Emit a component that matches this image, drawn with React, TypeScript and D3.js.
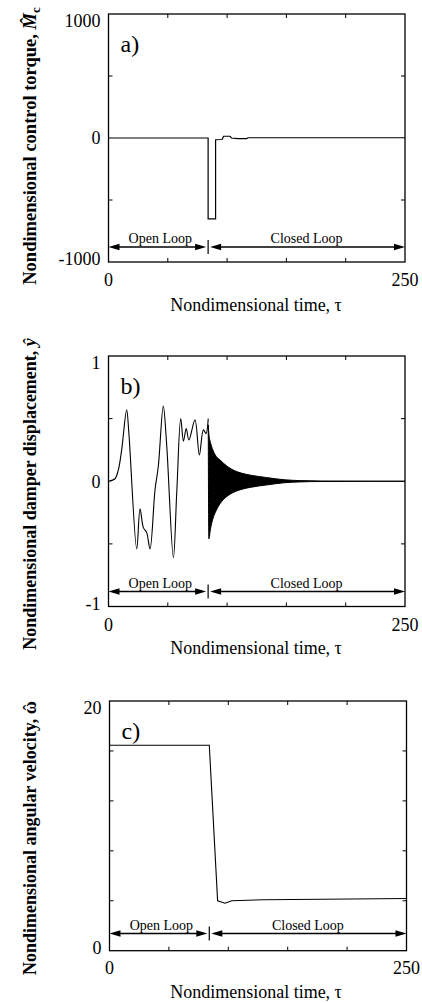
import React from 'react';
import * as d3 from 'd3';

const FONT = "'Liberation Serif', 'Times New Roman', Times, serif";

// ---------- shared time axis ----------
const timeDomain: [number, number] = [0, 250];
const timeMinorTicks = [50, 100, 150, 200];
const timeTickLabels = [0, 250];
const switchTau = 84;
const regimeLabels = ['Open Loop', 'Closed Loop'];
const xTitle = 'Nondimensional time, \u03C4';

// ---------- a) control torque ----------
const torqueDomain: [number, number] = [-1000, 1000];
const torqueTickLabels = [1000, 0, -1000];
const torqueMinorTicks = [-500, 500];
const torqueTau = [0, 84, 84, 90.3, 90.3, 95.8, 97, 102.4, 103.8, 109, 116.5, 117.5, 250];
const torqueVal = [0, 0, -653, -653, -14, -12, 14, 14, 0, -5, -5, 2, 2];

// ---------- b) damper displacement ----------
const dispDomain: [number, number] = [-1, 1];
const dispTickLabels = [1, 0, -1];
const dispMinorTicks = [-0.5, 0.5];
const dispTau = [0, 5.5, 8.3, 11.1, 15.3, 17.2, 23.8, 26.6, 29.4, 32.2, 35, 39.2, 42, 46.2, 49, 54.7, 57.5, 60.9, 63.2, 65.5, 67.8, 72.9, 76.6, 80, 82.2, 84.1];
const dispVal = [0, 0.02, 0.09, 0.25, 0.57, 0.38, -0.54, -0.22, -0.37, -0.41, -0.54, -0.07, 0.12, 0.6, 0.3, -0.61, -0.1, 0.5, 0.32, 0.42, 0.33, 0.49, 0.21, 0.41, 0.38, 0.5];
// closed-loop oscillation envelope (dense oscillation drawn as filled band)
const envTau = [84.1, 84.6, 86, 88, 90, 94, 100, 105, 112, 120, 133, 148, 162, 180, 250];
const envUpper = [0.45, 0.38, 0.31, 0.25, 0.21, 0.17, 0.12, 0.09, 0.065, 0.048, 0.03, 0.012, 0.005, 0.002, 0];
const envLower = [0.45, -0.46, -0.38, -0.3, -0.25, -0.18, -0.12, -0.09, -0.065, -0.048, -0.03, -0.012, -0.005, -0.002, 0];

// ---------- c) angular velocity ----------
const omegaDomain: [number, number] = [0, 20];
const omegaTickLabels = [20, 0];
const omegaMinorTicks = [4, 8, 12, 16];
const omegaTau = [0, 84, 91, 97.2, 102.9, 130, 250];
const omegaVal = [16.45, 16.45, 4.0, 3.8, 4.0, 4.08, 4.18];

type Box = { left: number; right: number; top: number; bottom: number };

function Arrow({ x1, x2, y }: { x1: number; x2: number; y: number }) {
  const L = 11, H = 3.2;
  return (
    <g>
      <line x1={x1 + 4} x2={x2 - 4} y1={y} y2={y} stroke="#000" strokeWidth={1.6} />
      <polygon points={`${x1},${y} ${x1 + L},${y - H} ${x1 + L},${y + H}`} fill="#000" />
      <polygon points={`${x2},${y} ${x2 - L},${y - H} ${x2 - L},${y + H}`} fill="#000" />
    </g>
  );
}

function Panel({
  box, yDomain, yTickLabels, yMinorTicks, letter, yTitle, titleCY, tickLabelY, xTitleY, arrowY, children,
}: {
  box: Box; yDomain: [number, number]; yTickLabels: number[]; yMinorTicks: number[]; letter: string;
  yTitle: React.ReactNode; titleCY: number; tickLabelY: number; xTitleY: number; arrowY: number;
  children: (x: d3.ScaleLinear<number, number>, y: d3.ScaleLinear<number, number>) => React.ReactNode;
}) {
  const x = d3.scaleLinear().domain(timeDomain).range([box.left, box.right]);
  const y = d3.scaleLinear().domain(yDomain).range([box.bottom, box.top]);
  const tk = 4;
  const xs = x(switchTau);
  return (
    <g fontFamily={FONT}>
      {children(x, y)}
      <rect x={box.left} y={box.top} width={box.right - box.left} height={box.bottom - box.top} fill="none" stroke="#000" strokeWidth={1.3} />
      {timeMinorTicks.map((t) => (
        <g key={'xt' + t}>
          <line x1={x(t)} x2={x(t)} y1={box.bottom} y2={box.bottom - tk} stroke="#000" strokeWidth={1} />
          <line x1={x(t)} x2={x(t)} y1={box.top} y2={box.top + tk} stroke="#000" strokeWidth={1} />
        </g>
      ))}
      {yMinorTicks.map((v) => (
        <g key={'yt' + v}>
          <line x1={box.left} x2={box.left + tk} y1={y(v)} y2={y(v)} stroke="#000" strokeWidth={1} />
          <line x1={box.right} x2={box.right - tk} y1={y(v)} y2={y(v)} stroke="#000" strokeWidth={1} />
        </g>
      ))}
      {yTickLabels.map((v) => {
        const cy = Math.min(Math.max(y(v), box.top + 7), box.bottom - 3);
        return (
          <text key={'yl' + v} x={box.left - 8} y={cy} dy="0.35em" textAnchor="end" fontSize={18}>
            {String(v)}
          </text>
        );
      })}
      {timeTickLabels.map((t) => (
        <text key={'xl' + t} x={x(t)} y={tickLabelY} dy="0.35em" textAnchor="middle" fontSize={18}>
          {String(t)}
        </text>
      ))}
      <text x={box.left + 12} y={box.top + 38} fontSize={24}>{letter}</text>
      <Arrow x1={box.left} x2={xs - 2} y={arrowY} />
      <Arrow x1={xs + 2} x2={box.right} y={arrowY} />
      <line x1={xs} x2={xs} y1={arrowY - 7} y2={arrowY + 7} stroke="#000" strokeWidth={1.2} />
      <text x={(box.left + xs) / 2 + 2} y={arrowY - 4} textAnchor="middle" fontSize={14}>{regimeLabels[0]}</text>
      <text x={(xs + box.right) / 2} y={arrowY - 4} textAnchor="middle" fontSize={14}>{regimeLabels[1]}</text>
      <text x={256} y={xTitleY} dy="0.35em" textAnchor="middle" fontSize={18}>{xTitle}</text>
      <text transform={`translate(30,${titleCY}) rotate(-90)`} textAnchor="middle" dy="0.35em" fontSize={18} fontWeight="bold">
        {yTitle}
      </text>
    </g>
  );
}

export default function App() {
  const lineGen = (xs: d3.ScaleLinear<number, number>, ys: d3.ScaleLinear<number, number>, T: number[], V: number[], smooth = false) => {
    const g = d3.line<number>().x((_, i) => xs(T[i])).y((_, i) => ys(V[i]));
    if (smooth) g.curve(d3.curveCatmullRom.alpha(0.5));
    return g(T) || '';
  };

  return (
    <svg width={422} height={1003} style={{ position: 'absolute', left: 0, top: 0, background: '#fff' }}>
      <rect width={422} height={1003} fill="#fff" />
      <Panel
        box={{ left: 108.5, right: 405, top: 14, bottom: 262 }}
        yDomain={torqueDomain} yTickLabels={torqueTickLabels} yMinorTicks={torqueMinorTicks}
        letter="a)" titleCY={146} tickLabelY={280} xTitleY={305} arrowY={247}
        yTitle={<tspan fontSize={18.5}>Nondimensional control torque, <tspan fontStyle="italic">M{'\u0302'}</tspan><tspan fontSize={13} dy={4}>c</tspan></tspan>}
      >
        {(x, y) => <path d={lineGen(x, y, torqueTau, torqueVal)} fill="none" stroke="#000" strokeWidth={1.2} />}
      </Panel>
      <Panel
        box={{ left: 108.5, right: 405, top: 356, bottom: 606.5 }}
        yDomain={dispDomain} yTickLabels={dispTickLabels} yMinorTicks={dispMinorTicks}
        letter="b)" titleCY={494} tickLabelY={625} xTitleY={648} arrowY={591.5}
        yTitle={<>Nondimensional damper displacement, <tspan fontStyle="italic">{'\u0177'}</tspan></>}
      >
        {(x, y) => (
          <g>
            <path d={lineGen(x, y, dispTau, dispVal, true)} fill="none" stroke="#000" strokeWidth={1.1} />
            <path
              d={d3.area<number>().x((_, i) => x(envTau[i])).y0((_, i) => y(envLower[i])).y1((_, i) => y(envUpper[i])).curve(d3.curveMonotoneX)(envTau) || ''}
              fill="#000" stroke="#000" strokeWidth={1}
            />
          </g>
        )}
      </Panel>
      <Panel
        box={{ left: 109.5, right: 406.5, top: 701, bottom: 950.7 }}
        yDomain={omegaDomain} yTickLabels={omegaTickLabels} yMinorTicks={omegaMinorTicks}
        letter="c)" titleCY={838} tickLabelY={968} xTitleY={992} arrowY={933.5}
        yTitle={<>Nondimensional angular velocity, {'\u03C9'}<tspan dx={-9.5} fontWeight="normal">{'\u02C6'}</tspan></>}
      >
        {(x, y) => <path d={lineGen(x, y, omegaTau, omegaVal)} fill="none" stroke="#000" strokeWidth={1.1} />}
      </Panel>
    </svg>
  );
}
